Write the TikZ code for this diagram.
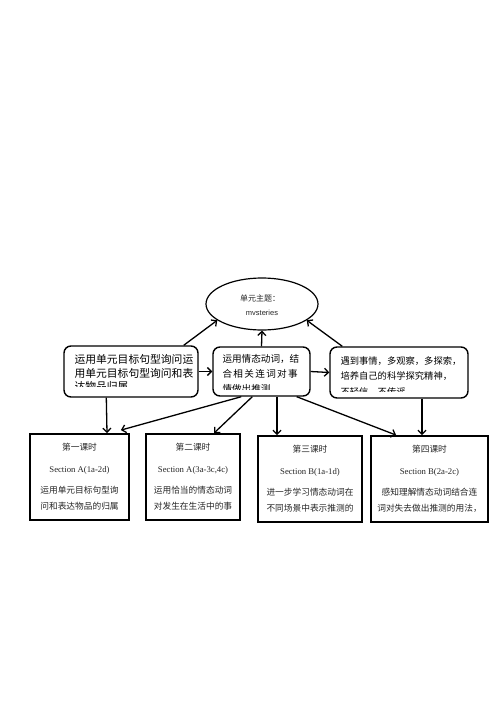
\documentclass[tikz,border=0pt]{standalone}
\usepackage{fontspec}
\setmainfont{Liberation Serif}
\newfontfamily\cjk{Noto Sans CJK SC}
\newfontfamily\cjkwide[LetterSpace=14]{Noto Sans CJK SC}
\newfontfamily\lat{Liberation Sans}
\usetikzlibrary{shapes.geometric,arrows.meta}

\begin{document}
\begin{tikzpicture}[x=1pt,y=-1pt,>={Straight Barb[length=4pt,width=8pt]},
	goal/.style={draw,line width=1.4pt,rounded corners=7pt,inner sep=0pt},
	goaltext/.style={anchor=north west,inner sep=0pt,align=left},
	lesson/.style={draw,line width=1.8pt,align=center,inner sep=0pt,text=black!85,font=\fontsize{8.7}{16}\selectfont\cjk},
	link/.style={->,line width=1.3pt}]
	\useasboundingbox[fill=white] (0,0) rectangle (500,707);

	% theme
	\node[draw,ellipse,line width=1.2pt,minimum width=112pt,minimum height=52pt,inner sep=0pt] (theme) at (262,304) {};
	\node[font=\fontsize{8}{10}\selectfont\cjk,text=black!85] (themeA) at (260,298) {单元主题：};
	\node[font=\fontsize{7.5}{9}\selectfont\lat,text=black!85] (themeB) at (262,313) {mvsteries};

	% goals
	\node[goal,minimum width=134pt,minimum height=51pt] (L) at (131,371.5) {};
	\node[goal,minimum width=97pt,minimum height=49pt] (M) at (261.5,371.5) {};
	\node[goal,minimum width=138pt,minimum height=51pt] (R) at (399,372.5) {};

	\begin{scope}
		\clip (L.north west) rectangle ([yshift=11.5pt]L.south east);
		\node[goaltext,font=\fontsize{10.8}{13.5}\selectfont\cjk] (Ltext) at ([xshift=11pt,yshift=-9pt]L.north west)
			{运用单元目标句型询问运\\用单元目标句型询问和表\\达物品归属};
	\end{scope}
	\begin{scope}
		\clip (M.north west) rectangle ([yshift=7pt]M.south east);
		\node[goaltext,font=\fontsize{9.6}{15}\selectfont\cjk] (Mtext) at ([xshift=10pt,yshift=-8pt]M.north west)
			{运用情态动词，结\\{\cjkwide 合相关连词对事}\\情做出推测};
	\end{scope}
	\begin{scope}
		\clip (R.north west) rectangle ([yshift=7pt]R.south east);
		\node[goaltext,font=\fontsize{9.3}{15.5}\selectfont\cjk] (Rtext) at ([xshift=11pt,yshift=-10pt]R.north west)
			{遇到事情，多观察，多探索，\\培养自己的科学探究精神，\\不轻信，不传谣};
	\end{scope}

	% lessons
	\node[lesson,minimum width=99pt,minimum height=86pt] (one) at (79.5,477)
		{第一课时\\[6pt]{\rmfamily Section A(1a-2d)}\\[5pt]运用单元目标句型询\\问和表达物品的归属};
	\node[lesson,minimum width=94pt,minimum height=86pt] (two) at (193,477)
		{第二课时\\[6pt]{\rmfamily Section A(3a-3c,4c)}\\[5pt]运用恰当的情态动词\\对发生在生活中的事};
	\node[lesson,minimum width=104pt,minimum height=86pt] (three) at (310,479)
		{第三课时\\[6pt]{\rmfamily Section B(1a-1d)}\\[5pt]进一步学习情态动词在\\不同场景中表示推测的};
	\node[lesson,minimum width=117pt,minimum height=86pt] (four) at (429.5,479)
		{第四课时\\[6pt]{\rmfamily Section B(2a-2c)}\\[5pt]感知理解情态动词结合连\\词对失去做出推测的用法，};

	% arrows
	\draw[link] ([xshift=-15pt]L.north east) -- (theme.200);
	\draw[link] (M.north) -- (theme.south);
	\draw[link] ([xshift=13pt]R.north west) -- (theme.-20);
	\draw[link] (L.east) -- (M.west);
	\draw[link] (M.east) -- (R.west);
	\draw[link] ([xshift=43pt]L.south west) -- ([xshift=27.5pt]one.north);
	\draw[link] ([xshift=29pt]M.south west) -- ([xshift=-9pt,yshift=3pt]one.north east);
	\draw[link] ([xshift=40pt]M.south west) -- ([xshift=21pt]two.north);
	\draw[link] ([xshift=15.5pt]M.south) -- ([xshift=-33pt]three.north);
	\draw[link] ([xshift=-14pt]M.south east) -- ([xshift=26pt]four.north west);
	\draw[link] ([xshift=23pt]R.south) -- ([xshift=-7.5pt]four.north);
\end{tikzpicture}
\end{document}
